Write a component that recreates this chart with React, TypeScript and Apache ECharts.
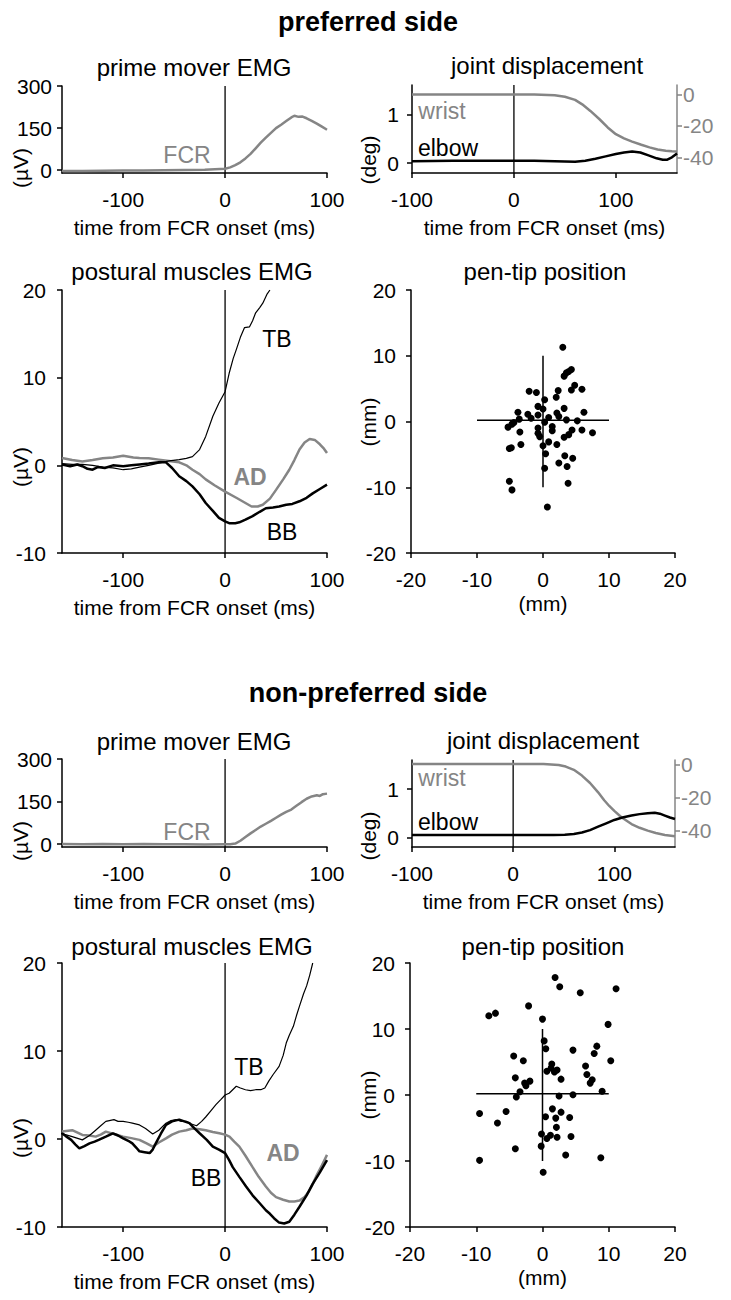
import React, { useEffect, useRef } from "react";
import * as echarts from "echarts";

// ---------- data ----------
const emgTicks = [-100, 0, 100];
const jointTicks = [-100, 0, 100];
const degTicks = [0, 1];
const wristTicks = [0, -20, -40];
const fcrTicks = [0, 150, 300];

// preferred side
const fcrPref = [[-160,-3],[-140,-3],[-120,-2],[-100,-1],[-80,-1],[-60,0],[-40,1],[-20,2],[0,5],[5,10],[10,18],[15,28],[20,42],[25,58],[30,78],[35,98],[40,116],[45,133],[50,150],[55,162],[60,175],[65,188],[68,194],[72,190],[76,191],[80,185],[85,176],[90,166],[95,155],[100,144]];
const wristPref = [[-100,0],[-60,0],[-20,0],[0,0],[20,0],[40,-0.5],[50,-1.5],[60,-3.5],[67,-6.3],[75,-10.5],[84,-15.8],[92,-21],[100,-25.3],[108,-28],[116,-30],[125,-32],[133,-33.7],[141,-35],[149,-35.8],[155,-36.2],[160,-36.3]];
const elbowPref = [[-100,0.04],[-60,0.05],[-20,0.05],[0,0.05],[20,0.05],[40,0.04],[60,0.03],[70,0.05],[80,0.09],[90,0.14],[100,0.19],[108,0.22],[116,0.24],[124,0.22],[132,0.16],[140,0.1],[146,0.07],[150,0.07],[155,0.12],[160,0.2]];
const tbPref = [[-160,0.2],[-150,0.1],[-140,0.1],[-130,0],[-120,-0.2],[-110,-0.3],[-100,-0.5],[-92,-0.4],[-84,-0.2],[-75,0],[-65,0.25],[-55,0.5],[-45,0.65],[-38,0.8],[-32,1.0],[-25,1.8],[-19,3.3],[-12,5.6],[-6,7.1],[0,8.4],[4,10.5],[8,12.2],[11,13.2],[15,14.6],[19,15.7],[24,15.8],[27,16.5],[30,17.4],[34,18],[37,18.5],[41,19.5],[44,20]];
const adPref = [[-160,0.84],[-150,0.6],[-140,0.45],[-130,0.6],[-120,0.8],[-110,0.9],[-100,1.1],[-90,0.9],[-84,0.84],[-75,0.8],[-65,0.65],[-55,0.5],[-45,0.34],[-38,0],[-32,-0.5],[-25,-1.0],[-19,-1.6],[-10,-2.3],[0,-3.0],[11,-3.7],[20,-4.3],[26,-4.7],[32,-4.7],[37,-4.5],[44,-3.8],[50,-2.8],[57,-1.6],[63,-0.5],[68,0.6],[73,1.8],[78,2.6],[83,3.0],[88,2.9],[93,2.4],[97,1.9],[100,1.4]];
const bbPref = [[-160,0.1],[-152,-0.1],[-145,0.1],[-140,-0.1],[-135,-0.4],[-130,-0.5],[-125,-0.2],[-118,-0.3],[-110,0],[-100,-0.1],[-92,0],[-84,0.1],[-75,0.2],[-65,0.34],[-58,0.34],[-52,-0.3],[-45,-1.25],[-38,-1.8],[-32,-2.4],[-25,-3.3],[-19,-4.3],[-12,-5.2],[-6,-6.0],[0,-6.4],[4,-6.6],[10,-6.6],[14,-6.5],[20,-6.2],[27,-5.8],[34,-5.3],[40,-4.9],[47,-4.8],[53,-4.7],[60,-4.5],[66,-4.4],[73,-4.1],[80,-3.7],[86,-3.2],[93,-2.7],[100,-2.2]];
const penPref = [[3.0,11.3],[3.2,6.9],[3.55,7.4],[3.9,7.6],[4.3,7.9],[4.8,5.5],[4.3,4.8],[5.9,4.9],[-2.1,4.6],[-1.0,4.4],[2.3,4.7],[2.0,3.7],[0.25,3.3],[-0.76,2.3],[3.2,2.0],[0,1.9],[-3.8,1.4],[-2.3,1.1],[-0.76,1.0],[2.1,1.3],[2.4,0.76],[0.86,0.6],[-1.8,0.5],[-3.6,0.36],[3.55,0.25],[6.2,1.4],[5.2,0.1],[0.25,-0.1],[-4.4,-0.15],[-4.7,-0.4],[-5.3,-0.86],[1.4,-0.76],[-0.76,-1.0],[1.4,-1.4],[4.4,-1.3],[5.9,-1.3],[7.5,-1.7],[-3.5,-1.6],[-0.76,-1.8],[-0.5,-2.3],[3.9,-2.0],[3.2,-2.4],[0.86,-3.1],[2.1,-3.5],[-3.35,-3.5],[0,-3.7],[-4.8,-4.0],[-5.1,-4.1],[0.4,-4.9],[3.3,-5.2],[4.5,-5.6],[2.4,-6.3],[3.65,-6.85],[0.25,-7.1],[-5.1,-9.1],[-4.7,-10.4],[3.8,-9.4],[0.66,-13.0]];

// non-preferred side
const fcrNon = [[-160,1],[-140,0],[-120,1],[-100,0],[-80,1],[-60,0],[-40,0],[-20,-1],[0,0],[5,0],[10,2],[15,12],[20,25],[25,38],[30,50],[35,62],[40,72],[45,82],[50,93],[55,104],[60,114],[65,122],[70,135],[75,148],[80,160],[85,168],[90,172],[93,170],[96,176],[100,178]];
const wristNon = [[-100,0.5],[0,0.5],[30,0.5],[45,0],[52,-1],[60,-3],[68,-6.5],[76,-11],[84,-16.7],[90,-21.5],[95,-25],[100,-28],[107,-31.9],[117,-36],[125,-38.3],[133,-40],[141,-41.5],[150,-42.7],[160,-43.5]];
const elbowNon = [[-100,0.05],[0,0.05],[40,0.05],[51,0.055],[60,0.07],[68,0.1],[76,0.15],[84,0.22],[92,0.29],[100,0.36],[108,0.41],[117,0.45],[125,0.48],[133,0.5],[140,0.51],[145,0.49],[150,0.45],[155,0.41],[160,0.38]];
const tbNon = [[-161,0.65],[-150,0.27],[-140,-0.1],[-133,0.4],[-127,1.0],[-122,1.5],[-117,2.0],[-109,2.2],[-105,2.0],[-100,2.0],[-95,1.9],[-91,1.8],[-84,1.6],[-78,1.2],[-71,0.57],[-65,1.0],[-58,1.8],[-53,2.1],[-48,2.2],[-43,2.0],[-38,2.0],[-33,1.7],[-28,1.5],[-23,2.0],[-19,2.5],[-14,3.2],[-9,3.9],[-4,4.5],[0,5.0],[4,5.2],[7.5,5.6],[11,6.0],[15,5.8],[20,5.6],[25,5.5],[30,5.6],[35,5.6],[39,5.8],[43,6.6],[47,7.3],[53,8.25],[57,9.5],[60,10.9],[63,11.8],[67,12.8],[70,14.0],[73,15.1],[77,16.5],[80,17.4],[83,18.6],[86,20]];
const bbNon = [[-160,0.65],[-156,0.3],[-151,-0.1],[-147,-0.6],[-143,-1.06],[-138,-0.8],[-133,-0.5],[-128,-0.3],[-124,-0.1],[-117,0.27],[-110,0.65],[-105,0.4],[-100,0.07],[-95,-0.2],[-91,-0.5],[-87,-1.0],[-84,-1.4],[-79,-1.5],[-74,-1.6],[-71,-1.2],[-68,-0.5],[-63,0.6],[-58,1.6],[-52,2.0],[-45,2.2],[-40,2.0],[-35,1.8],[-30,1.2],[-25,0.65],[-18,-0.1],[-12,-0.87],[-6,-1.2],[0,-1.6],[4,-2.4],[7.5,-3.2],[14,-4.3],[20.6,-5.4],[27,-6.4],[34,-7.3],[40,-8.1],[44,-8.5],[48,-9.0],[53,-9.5],[58,-9.6],[63,-9.4],[68,-8.6],[73,-7.7],[80,-6.4],[86,-5.1],[93,-3.8],[100,-2.4]];
const adNon = [[-160,0.84],[-150,1.0],[-140,0.46],[-133,0.4],[-127,0.27],[-122,0.5],[-117,0.84],[-110,0.6],[-100,0.27],[-92,0.1],[-84,-0.1],[-77,-0.5],[-71,-0.87],[-65,-0.4],[-58,0.07],[-52,0.5],[-45,0.84],[-38,1.0],[-32,1.2],[-25,1.1],[-19,1.0],[-12,0.8],[-5.6,0.65],[0,0.5],[4.3,0.27],[9,-0.3],[14,-0.87],[20,-1.9],[27,-3.2],[33,-4.3],[40,-5.4],[45,-6.1],[50,-6.6],[57,-6.9],[63,-7.1],[68,-7.1],[73,-7.0],[78,-6.6],[82,-6.0],[86,-5.1],[90,-4.1],[95,-3.0],[100,-1.8]];
const penNon = [[1.9,17.8],[2.6,16.4],[5.7,15.5],[11.1,16.1],[-2.1,13.5],[-7.1,12.4],[-8.1,12.0],[0,11.5],[9.9,10.7],[0.25,8.2],[0.5,7.0],[4.6,6.8],[8.2,7.4],[7.8,6.3],[-4.35,5.9],[-2.9,5.2],[10.3,5.2],[1.4,4.7],[6.5,4.4],[0.66,3.6],[1.3,4.1],[1.8,3.5],[2.2,3.8],[6.7,3.1],[7.5,2.3],[7.2,1.8],[-4.1,2.6],[2.8,2.4],[-1.9,2.1],[-2.7,1.8],[-2.5,1.4],[-3.4,0.5],[9.0,0.56],[-3.95,-0.3],[2.5,-0.15],[4.6,0.05],[-9.5,-2.8],[-5.5,-2.5],[1.5,-2.1],[2.8,-2.6],[-6.8,-4.25],[0.46,-3.3],[2.0,-3.5],[4.1,-3.4],[2.1,-4.9],[-0.15,-5.9],[1.2,-6.1],[0.66,-6.6],[2.2,-6.4],[4.3,-6.3],[-4.1,-8.15],[-0.2,-7.75],[3.5,-9.1],[8.8,-9.5],[-9.5,-9.9],[0.1,-11.7]];

// ---------- styles ----------
const FONT = "'Liberation Sans', Arial, Helvetica, sans-serif";
const GRAY = "#858585";
const BLACK = "#000";

function xAxisDef(grid: number, min: number, max: number, ticks: number[], name: string) {
  return {
    type: "value", gridIndex: grid, min, max, name, nameLocation: "middle", nameGap: 44,
    nameTextStyle: { color: BLACK, fontSize: 21, fontFamily: FONT },
    axisLine: { onZero: false, lineStyle: { color: BLACK, width: 1.5 } },
    axisTick: { length: 5, customValues: ticks, lineStyle: { color: BLACK, width: 1.5 } },
    axisLabel: { customValues: ticks, margin: 16, color: BLACK, fontSize: 21, fontFamily: FONT },
    splitLine: { show: false },
  };
}
function yAxisDef(grid: number, min: number, max: number, ticks: number[], opts: any = {}) {
  const color = opts.color || BLACK;
  return {
    type: "value", gridIndex: grid, min, max, position: opts.position || "left",
    axisLine: { onZero: false, lineStyle: { color, width: 1.5 } },
    axisTick: { length: 5, customValues: ticks, lineStyle: { color, width: 1.5 } },
    axisLabel: { customValues: ticks, margin: opts.margin ?? 10, color, fontSize: 21, fontFamily: FONT },
    splitLine: { show: false },
  };
}
function lineS(data: number[][], xi: number, yi: number, color: string, width: number, z = 3) {
  return { type: "line", xAxisIndex: xi, yAxisIndex: yi, data, symbol: "none", showSymbol: false,
    lineStyle: { color, width }, z, silent: true };
}
function txt(text: string, x: number, y: number, size: number, color = BLACK, weight = "normal", rotation = 0) {
  return { type: "text", x, y, rotation, silent: true,
    style: { text, fill: color, fontSize: size, fontFamily: FONT, fontWeight: weight,
      align: "center", verticalAlign: "middle", textAlign: "center", textVerticalAlign: "middle" } };
}

export default function App() {
  const ref = useRef<HTMLDivElement>(null);
  useEffect(() => {
    document.body.style.margin = "0";
    const chart = echarts.init(ref.current!, null, { renderer: "svg" });
    const grids = [
      { left: 62, top: 86, width: 265, height: 87 },
      { left: 412, top: 85, width: 265, height: 88 },
      { left: 62, top: 290, width: 265, height: 263 },
      { left: 411, top: 290, width: 264, height: 263 },
      { left: 62, top: 759, width: 265, height: 88 },
      { left: 412, top: 760, width: 263, height: 87 },
      { left: 62, top: 963, width: 265, height: 264 },
      { left: 410, top: 963, width: 265, height: 264 },
    ];
    const tname = "time from FCR onset (ms)";
    const xAxis = [
      xAxisDef(0, -160, 100, emgTicks, tname),
      xAxisDef(1, -100, 160, jointTicks, tname),
      xAxisDef(2, -160, 100, emgTicks, tname),
      { ...xAxisDef(3, -20, 20, [-20, -10, 0, 10, 20], "(mm)"), interval: 10, nameGap: 40 },
      xAxisDef(4, -160, 100, emgTicks, tname),
      xAxisDef(5, -100, 160, jointTicks, tname),
      xAxisDef(6, -160, 100, emgTicks, tname),
      { ...xAxisDef(7, -20, 20, [-20, -10, 0, 10, 20], "(mm)"), interval: 10, nameGap: 40 },
    ];
    const yAxis = [
      yAxisDef(0, -10, 300, fcrTicks),                               // 0
      yAxisDef(1, -0.2, 1.6, degTicks, { margin: 13 }),              // 1
      yAxisDef(1, -50, 6, wristTicks, { position: "right", color: GRAY, margin: 6 }), // 2
      yAxisDef(2, -10, 20, [-10, 0, 10, 20], { margin: 16 }),        // 3
      yAxisDef(3, -20, 20, [-20, -10, 0, 10, 20], { margin: 15 }),   // 4
      yAxisDef(4, -10, 300, fcrTicks),                               // 5
      yAxisDef(5, -0.2, 1.6, degTicks, { margin: 13 }),              // 6
      yAxisDef(5, -50, 3, wristTicks, { position: "right", color: GRAY, margin: 6 }), // 7
      yAxisDef(6, -10, 20, [-10, 0, 10, 20], { margin: 16 }),        // 8
      yAxisDef(7, -20, 20, [-20, -10, 0, 10, 20], { margin: 15 }),   // 9
    ];
    const zeroEmg = [[0, -10], [0, 300]];
    const zeroJoint = [[0, -0.2], [0, 1.6]];
    const zeroPost = [[0, -10], [0, 20]];
    const crossH = [[-10, 0.2], [10, 0.2]];
    const crossV = [[0, -10], [0, 10]];
    const dots = { color: BLACK, opacity: 1 };
    const series: any[] = [
      // preferred
      lineS(zeroEmg, 0, 0, BLACK, 1.3, 2),
      lineS(fcrPref, 0, 0, GRAY, 2.5),
      lineS(zeroJoint, 1, 1, BLACK, 1.3, 2),
      lineS(wristPref, 1, 2, GRAY, 2.5),
      lineS(elbowPref, 1, 1, BLACK, 2.5),
      lineS(zeroPost, 2, 3, BLACK, 1.3, 2),
      lineS(adPref, 2, 3, GRAY, 2.5),
      lineS(bbPref, 2, 3, BLACK, 2.5),
      lineS(tbPref, 2, 3, BLACK, 1.2),
      lineS(crossH, 3, 4, BLACK, 1.5, 2),
      lineS(crossV, 3, 4, BLACK, 1.5, 2),
      { type: "scatter", xAxisIndex: 3, yAxisIndex: 4, data: penPref, symbolSize: 7, itemStyle: dots, silent: true },
      // non-preferred
      lineS(zeroEmg, 4, 5, BLACK, 1.3, 2),
      lineS(fcrNon, 4, 5, GRAY, 2.5),
      lineS(zeroJoint, 5, 6, BLACK, 1.3, 2),
      lineS(wristNon, 5, 7, GRAY, 2.5),
      lineS(elbowNon, 5, 6, BLACK, 2.5),
      lineS(zeroPost, 6, 8, BLACK, 1.3, 2),
      lineS(adNon, 6, 8, GRAY, 2.5),
      lineS(bbNon, 6, 8, BLACK, 2.5),
      lineS(tbNon, 6, 8, BLACK, 1.2),
      lineS(crossH, 7, 9, BLACK, 1.5, 2),
      lineS(crossV, 7, 9, BLACK, 1.5, 2),
      { type: "scatter", xAxisIndex: 7, yAxisIndex: 9, data: penNon, symbolSize: 7, itemStyle: dots, silent: true },
    ];
    const R = Math.PI / 2;
    const graphic = [
      txt("preferred side", 368, 22, 27, BLACK, "bold"),
      txt("non-preferred side", 368, 693, 27, BLACK, "bold"),
      txt("prime mover EMG", 194, 67, 24),
      txt("joint displacement", 547, 65, 24),
      txt("postural muscles EMG", 192, 271, 24),
      txt("pen-tip position", 545, 271, 24),
      txt("prime mover EMG", 194, 741, 24),
      txt("joint displacement", 543, 740, 24),
      txt("postural muscles EMG", 192, 946, 24),
      txt("pen-tip position", 543, 946, 24),
      txt("(µV)", 20, 168, 21, BLACK, "normal", R),
      txt("(deg)", 368, 160, 21, BLACK, "normal", R),
      txt("(µV)", 20, 467, 21, BLACK, "normal", R),
      txt("(mm)", 368, 422, 21, BLACK, "normal", R),
      txt("(µV)", 20, 841, 21, BLACK, "normal", R),
      txt("(deg)", 368, 836, 21, BLACK, "normal", R),
      txt("(µV)", 20, 1138, 21, BLACK, "normal", R),
      txt("(mm)", 368, 1095, 21, BLACK, "normal", R),
      txt("FCR", 187, 155, 23, GRAY),
      txt("wrist", 442, 111, 23, GRAY),
      txt("elbow", 448, 148, 23, BLACK),
      txt("TB", 277, 339, 23),
      txt("AD", 250, 477, 23, GRAY, "bold"),
      txt("BB", 282, 532, 23),
      txt("FCR", 187, 832, 23, GRAY),
      txt("wrist", 442, 778, 23, GRAY),
      txt("elbow", 448, 822, 23, BLACK),
      txt("TB", 249, 1067, 23),
      txt("AD", 283, 1153, 23, GRAY, "bold"),
      txt("BB", 206, 1178, 23),
    ];
    chart.setOption({
      animation: false,
      backgroundColor: "#fff",
      grid: grids,
      xAxis,
      yAxis,
      series,
      graphic,
    });
    return () => chart.dispose();
  }, []);
  return <div ref={ref} style={{ width: 731, height: 1300 }} />;
}
